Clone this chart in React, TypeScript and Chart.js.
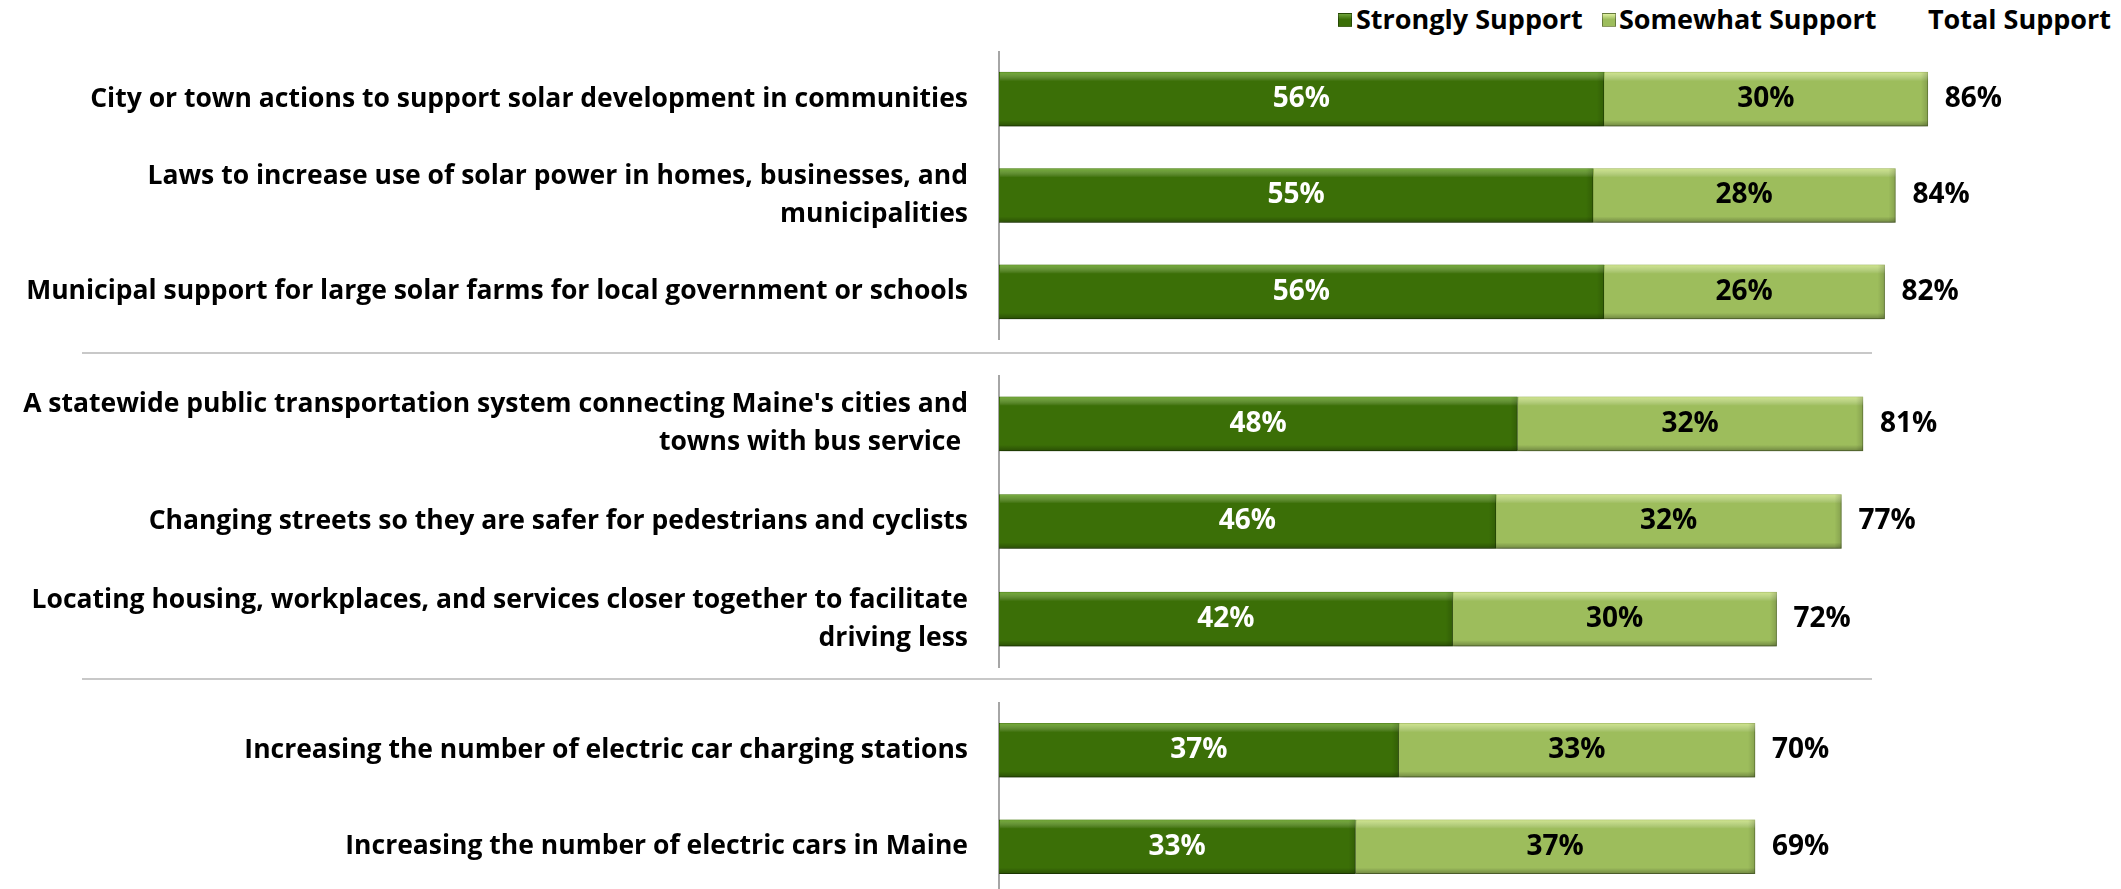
import React, { useEffect, useRef } from 'react';
import { Chart, registerables } from 'chart.js';

Chart.register(...registerables);

// ---------- data ----------
const categories: (string | string[])[] = [
  'City or town actions to support solar development in communities',
  ['Laws to increase use of solar power in homes, businesses, and', 'municipalities'],
  'Municipal support for large solar farms for local government or schools',
  ["A statewide public transportation system connecting Maine's cities and", 'towns with bus service '],
  'Changing streets so they are safer for pedestrians and cyclists',
  ['Locating housing, workplaces, and services closer together to facilitate', 'driving less'],
  'Increasing the number of electric car charging stations',
  'Increasing the number of electric cars in Maine',
];
const stronglySupport = [56, 55, 56, 48, 46, 42, 37, 33];
const somewhatSupport = [30, 28, 26, 32, 32, 30, 33, 37];
const totalSupport = [86, 84, 82, 81, 77, 72, 70, 69];
const groupSizes = [3, 3, 2];
const seriesNames = ['Strongly Support', 'Somewhat Support'];
const totalLabel = 'Total Support';

// ---------- styles ----------
const DARK = '#3b6f07';
const LIGHT = '#9dbd5c';
const FONT = '"Open Sans", Lato, sans-serif';
const W = 2121;
const AXIS_X = 999;
const RIGHT_PAD = 42;
const groupLayout = [
  { top: 51, height: 289 },
  { top: 375, height: 293 },
  { top: 702, height: 193 },
];

const bevelPlugin = {
  id: 'bevelAndLabels',
  beforeDatasetsDraw(chart: any) {
    const c = chart.ctx;
    c.save();
    c.shadowColor = 'rgba(0,0,0,0.30)';
    c.shadowBlur = 7;
    c.shadowOffsetY = 5;
    c.shadowOffsetX = 0;
  },
  afterDatasetsDraw(chart: any, _args: any, opts: any) {
    const c = chart.ctx;
    c.restore();
    const totals: number[] = opts.totals || [];
    chart.data.datasets.forEach((_ds: any, di: number) => {
      const meta = chart.getDatasetMeta(di);
      meta.data.forEach((el: any) => {
        const p = el.getProps(['x', 'y', 'base', 'height'], true);
        const left = Math.min(p.x, p.base);
        const right = Math.max(p.x, p.base);
        const top = p.y - p.height / 2;
        const bottom = p.y + p.height / 2;
        const w = right - left;
        c.save();
        let g = c.createLinearGradient(0, top, 0, top + 9);
        g.addColorStop(0, di === 0 ? 'rgba(160,220,90,0.55)' : 'rgba(240,255,170,0.6)');
        g.addColorStop(1, 'rgba(255,255,255,0)');
        c.fillStyle = g;
        c.fillRect(left + 1, top, w - 1, 9);
        g = c.createLinearGradient(0, bottom - 6, 0, bottom);
        g.addColorStop(0, 'rgba(0,0,0,0)');
        g.addColorStop(1, 'rgba(0,0,0,0.28)');
        c.fillStyle = g;
        c.fillRect(left, bottom - 6, w, 6);
        g = c.createLinearGradient(right - 7, 0, right, 0);
        g.addColorStop(0, 'rgba(0,0,0,0)');
        g.addColorStop(1, 'rgba(0,0,0,0.15)');
        c.fillStyle = g;
        c.fillRect(right - 7, top, 7, p.height);
        c.restore();
      });
    });
    c.save();
    c.font = `bold 28px ${FONT}`;
    c.textBaseline = 'middle';
    chart.data.datasets.forEach((ds: any, di: number) => {
      const meta = chart.getDatasetMeta(di);
      meta.data.forEach((el: any, i: number) => {
        const p = el.getProps(['x', 'y', 'base'], true);
        c.textAlign = 'center';
        c.fillStyle = di === 0 ? '#ffffff' : '#000000';
        c.fillText(`${ds.data[i]}%`, (p.x + p.base) / 2, p.y);
      });
    });
    const last = chart.getDatasetMeta(chart.data.datasets.length - 1);
    last.data.forEach((el: any, i: number) => {
      const p = el.getProps(['x', 'y'], true);
      c.textAlign = 'left';
      c.fillStyle = '#000000';
      c.fillText(`${totals[i]}%`, p.x + 17, p.y);
    });
    c.restore();
  },
};

function GroupChart({ start, count, top, height }: { start: number; count: number; top: number; height: number }) {
  const ref = useRef<HTMLCanvasElement | null>(null);
  useEffect(() => {
    if (!ref.current) return;
    const end = start + count;
    const chart = new Chart(ref.current, {
      type: 'bar',
      data: {
        labels: categories.slice(start, end),
        datasets: [
          {
            label: seriesNames[0],
            data: stronglySupport.slice(start, end),
            backgroundColor: DARK,
            borderColor: '#2f5a05',
            borderWidth: 1,
            barThickness: 54,
          },
          {
            label: seriesNames[1],
            data: somewhatSupport.slice(start, end),
            backgroundColor: LIGHT,
            borderColor: '#7d9a45',
            borderWidth: 1,
            barThickness: 54,
          },
        ],
      },
      options: {
        indexAxis: 'y',
        responsive: false,
        animation: false,
        layout: { padding: { left: 0, right: RIGHT_PAD, top: 0, bottom: 0 } },
        plugins: {
          legend: { display: false },
          tooltip: { enabled: false },
          bevelAndLabels: { totals: totalSupport.slice(start, end) },
        } as any,
        scales: {
          x: { stacked: true, min: 0, max: 100, display: false },
          y: {
            stacked: true,
            grid: { display: false, drawTicks: false },
            border: { display: true, color: '#a6a6a6', width: 2 },
            ticks: {
              color: '#000000',
              padding: 31,
              font: { family: FONT, size: 26.5, weight: 'bold', lineHeight: 1.44 },
            },
            afterFit: (scale: any) => {
              scale.width = AXIS_X;
              scale.paddingTop = 0;
              scale.paddingBottom = 0;
            },
          },
        },
      },
      plugins: [bevelPlugin],
    } as any);
    return () => chart.destroy();
  }, [start, count]);
  return (
    <canvas
      ref={ref}
      width={W}
      height={height}
      style={{ position: 'absolute', left: 0, top, width: W, height }}
    />
  );
}

const legendText: React.CSSProperties = {
  position: 'absolute',
  top: 5,
  fontFamily: FONT,
  fontWeight: 'bold',
  fontSize: 27,
  lineHeight: '27px',
  color: '#000',
  whiteSpace: 'nowrap',
};

function box(left: number, color: string, light: string): React.CSSProperties {
  return {
    position: 'absolute',
    left,
    top: 13,
    width: 14,
    height: 14,
    background: `linear-gradient(to bottom, ${light}, ${color} 45%, ${color})`,
    border: '1px solid rgba(0,0,0,0.35)',
    boxSizing: 'border-box',
  };
}

export default function App() {
  const starts: number[] = [];
  let acc = 0;
  groupSizes.forEach((n) => {
    starts.push(acc);
    acc += n;
  });
  return (
    <div
      style={{
        position: 'absolute',
        left: 0,
        top: 0,
        width: W,
        height: 889,
        overflow: 'hidden',
        background: '#fff',
      }}
    >
      <div style={box(1338, DARK, '#6fa33a')} />
      <div style={{ ...legendText, left: 1356 }}>{seriesNames[0]}</div>
      <div style={box(1602, LIGHT, '#dff0a0')} />
      <div style={{ ...legendText, left: 1619 }}>{seriesNames[1]}</div>
      <div style={{ ...legendText, right: 10 }}>{totalLabel}</div>
      {groupSizes.map((n, gi) => (
        <GroupChart key={gi} start={starts[gi]} count={n} top={groupLayout[gi].top} height={groupLayout[gi].height} />
      ))}
      <div style={{ position: 'absolute', left: 82, top: 352, width: 1790, height: 2, background: '#c8c8c8' }} />
      <div style={{ position: 'absolute', left: 82, top: 678, width: 1790, height: 2, background: '#c8c8c8' }} />
    </div>
  );
}
